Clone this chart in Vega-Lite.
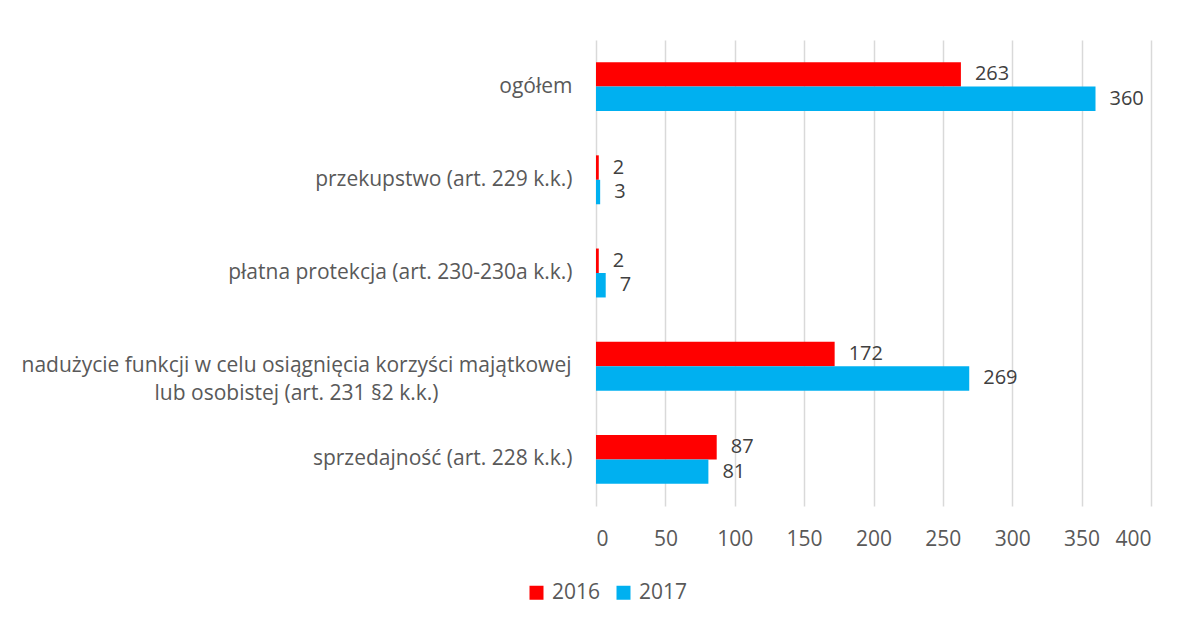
{
  "$schema": "https://vega.github.io/schema/vega-lite/v6.json",
  "autosize": {"type": "none"},
  "width": 555,
  "height": 466,
  "padding": {"left": 596, "top": 40, "right": 35, "bottom": 117},
  "background": "white",
  "config": {
    "view": {"stroke": null},
    "font": "Open Sans",
    "axis": {"labelColor": "#595959", "labelFont": "Open Sans"},
    "legend": {"labelFont": "Open Sans"}
  },
  "data": {
    "values": [
      {"kategoria": "ogółem", "rok": "2016", "liczba": 263},
      {"kategoria": "ogółem", "rok": "2017", "liczba": 360},
      {"kategoria": "przekupstwo (art. 229 k.k.)", "rok": "2016", "liczba": 2},
      {"kategoria": "przekupstwo (art. 229 k.k.)", "rok": "2017", "liczba": 3},
      {"kategoria": "płatna protekcja (art. 230-230a k.k.)", "rok": "2016", "liczba": 2},
      {"kategoria": "płatna protekcja (art. 230-230a k.k.)", "rok": "2017", "liczba": 7},
      {"kategoria": "nadużycie funkcji w celu osiągnięcia korzyści majątkowej lub osobistej (art. 231 §2 k.k.)", "rok": "2016", "liczba": 172},
      {"kategoria": "nadużycie funkcji w celu osiągnięcia korzyści majątkowej lub osobistej (art. 231 §2 k.k.)", "rok": "2017", "liczba": 269},
      {"kategoria": "sprzedajność (art. 228 k.k.)", "rok": "2016", "liczba": 87},
      {"kategoria": "sprzedajność (art. 228 k.k.)", "rok": "2017", "liczba": 81}
    ]
  },
  "encoding": {
    "y": {
      "field": "kategoria",
      "type": "nominal",
      "sort": null,
      "scale": {"paddingInner": 0.475, "paddingOuter": 0.2375},
      "axis": {
        "title": null,
        "domain": false,
        "ticks": false,
        "labelFontSize": 21,
        "labelPadding": {"condition": {"test": "indexof(datum.value, 'nadużycie') == 0", "value": 300}, "value": 24},
        "labelAlign": {"condition": {"test": "indexof(datum.value, 'nadużycie') == 0", "value": "center"}, "value": "right"},
        "labelLimit": 700,
        "labelLineHeight": 28,
        "labelExpr": "indexof(datum.label, 'nadużycie') == 0 ? ['nadużycie funkcji w celu osiągnięcia korzyści majątkowej', 'lub osobistej (art. 231 §2 k.k.)'] : datum.label"
      }
    },
    "yOffset": {"field": "rok", "type": "nominal", "sort": "ascending", "scale": {"paddingInner": 0, "paddingOuter": 0}},
    "x": {
      "field": "liczba",
      "type": "quantitative",
      "scale": {"domain": [0, 400], "nice": false},
      "axis": {
        "title": null,
        "values": [0, 50, 100, 150, 200, 250, 300, 350, 400],
        "domain": false,
        "ticks": false,
        "grid": true,
        "gridColor": "#D9D9D9",
        "gridWidth": 1.5,
        "labelFontSize": 21,
        "labelPadding": 22
      }
    }
  },
  "layer": [
    {
      "mark": {"type": "bar"},
      "encoding": {
        "color": {
          "field": "rok",
          "type": "nominal",
          "scale": {"domain": ["2016", "2017"], "range": ["#FF0000", "#00B0F0"]},
          "legend": {
            "title": null,
            "orient": "none",
            "direction": "horizontal",
            "legendX": -70,
            "legendY": 542,
            "symbolType": "square",
            "symbolSize": 196,
            "symbolStrokeWidth": 0,
            "labelFontSize": 21,
            "labelColor": "#595959",
            "labelOffset": 5,
            "columnPadding": 12
          }
        }
      }
    },
    {
      "mark": {"type": "text", "align": "left", "baseline": "middle", "dx": 14, "fontSize": 20, "color": "#404040"},
      "encoding": {
        "text": {"field": "liczba", "type": "quantitative"}
      }
    }
  ]
}
